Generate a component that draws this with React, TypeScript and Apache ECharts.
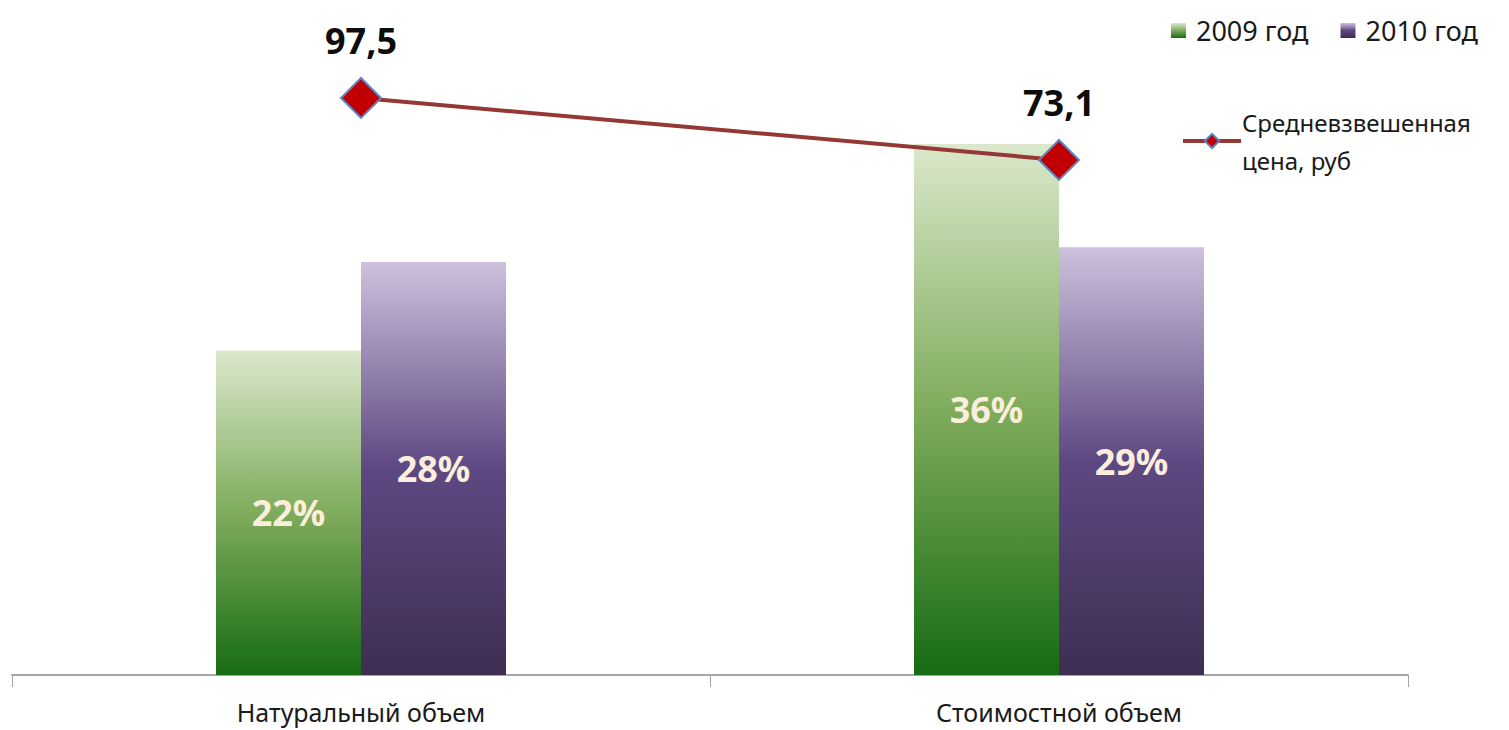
import React, { useEffect, useRef } from "react";
import * as echarts from "echarts";

const categories = ["Натуральный объем", "Стоимостной объем"];
const share2009 = [22, 36];
const share2010 = [28, 29];
const avgPrice = [97.5, 73.1];
const seriesNames = ["2009 год", "2010 год", "Средневзвешенная цена, руб"];

const FONT = "'Noto Sans', 'Open Sans', sans-serif";

export default function App() {
  const ref = useRef<HTMLDivElement>(null);
  useEffect(() => {
    if (!ref.current) return;
    const chart = echarts.init(ref.current, undefined, { renderer: "svg" });
    const green = new echarts.graphic.LinearGradient(0, 0, 0, 1, [
      { offset: 0, color: "#dbe8cc" },
      { offset: 0.5, color: "#7fac5c" },
      { offset: 1, color: "#176b14" },
    ]);
    const purple = new echarts.graphic.LinearGradient(0, 0, 0, 1, [
      { offset: 0, color: "#cdc1dd" },
      { offset: 0.5, color: "#5e4882" },
      { offset: 1, color: "#3e2e52" },
    ]);
    const barLabel = {
      show: true,
      position: "inside",
      formatter: "{c}%",
      color: "#fbeedd",
      fontSize: 36,
      fontWeight: "bold",
      fontFamily: FONT,
    };
    chart.setOption({
      animation: false,
      textStyle: { fontFamily: FONT },
      grid: { left: 12, right: 101, top: 85, bottom: 55, containLabel: false },
      legend: [
        {
          data: [seriesNames[0], seriesNames[1]],
          top: 12,
          right: 26,
          itemWidth: 15,
          itemHeight: 15,
          itemGap: 32,
          icon: "rect",
          textStyle: { fontSize: 27, color: "#1a1a1a", fontFamily: FONT, padding: [0, 0, 0, 5] },
        },
        {
          data: [seriesNames[2]],
          top: 98,
          left: 1176,
          itemWidth: 58,
          itemHeight: 18,
          lineStyle: { width: 4 },
          formatter: () => "Средневзвешенная\nцена, руб",
          textStyle: { fontSize: 24, color: "#1a1a1a", fontFamily: FONT, lineHeight: 38, padding: [0, 0, 0, -4] },
        },
      ],
      xAxis: {
        type: "category",
        data: categories,
        axisLine: { lineStyle: { color: "#a6a6a6", width: 2 } },
        axisTick: { show: true, length: 12, lineStyle: { color: "#a6a6a6" } },
        axisLabel: { fontSize: 25, color: "#1a1a1a", margin: 24, fontFamily: FONT },
      },
      yAxis: [
        { type: "value", min: 0, max: 40, show: false, splitLine: { show: false } },
        { type: "value", min: -129.6, max: 102.6, show: false, splitLine: { show: false } },
      ],
      series: [
        {
          name: seriesNames[0],
          type: "bar",
          data: share2009,
          barWidth: 145,
          barGap: "0%",
          itemStyle: { color: green },
          label: barLabel,
        },
        {
          name: seriesNames[1],
          type: "bar",
          data: share2010,
          barWidth: 145,
          barGap: "0%",
          itemStyle: { color: purple },
          label: barLabel,
        },
        {
          name: seriesNames[2],
          type: "line",
          yAxisIndex: 1,
          data: avgPrice,
          symbol: "diamond",
          symbolSize: [40, 40],
          lineStyle: { color: "#953735", width: 4 },
          itemStyle: { color: "#c00000", borderColor: "#5b86c5", borderWidth: 2 },
          label: {
            show: true,
            position: "top",
            distance: 18,
            formatter: (p: any) => String(p.value).replace(".", ","),
            fontSize: 36,
            fontWeight: "bold",
            color: "#0d0d0d",
            fontFamily: FONT,
          },
          z: 5,
        },
      ],
    });
    return () => chart.dispose();
  }, []);
  return (
    <div
      ref={ref}
      style={{ position: "fixed", left: 0, top: 0, width: 1509, height: 730, background: "#fff" }}
    />
  );
}
